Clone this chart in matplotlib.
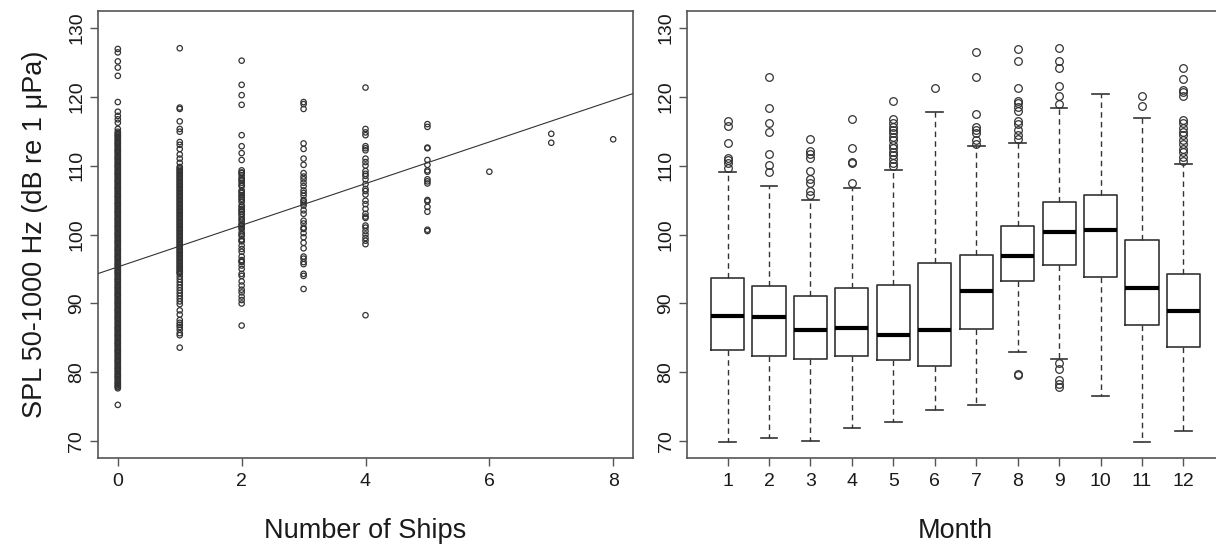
import numpy as np
import matplotlib as mpl
mpl.use("Agg")
import matplotlib.pyplot as plt

plt.rcParams['font.family'] = ['Liberation Sans', 'DejaVu Sans']

### Data ###

# SPL values per number of ships
spl_ships0 = [75.3, 77.7, 77.9, 78.2, 78.5, 78.9, 79.3, 79.6, 80.0, 80.4, 80.7, 81.1,
              81.5, 81.8, 82.2, 82.6, 83.0, 83.3, 83.7, 84.1, 84.4, 84.8, 85.2, 85.5,
              85.9, 86.3, 86.6, 87.0, 87.4, 87.8, 88.1, 88.5, 88.9, 89.2, 89.6, 90.0,
              90.3, 90.7, 91.1, 91.4, 91.8, 92.2, 92.5, 92.9, 93.3, 93.6, 94.0, 94.4,
              94.7, 95.1, 95.5, 95.8, 96.2, 96.6, 96.9, 97.3, 97.7, 98.0, 98.4, 98.8,
              99.1, 99.5, 99.9, 100.2, 100.6, 101.0, 101.3, 101.7, 102.1, 102.4, 102.8,
              103.2, 103.5, 103.9, 104.3, 104.6, 105.0, 105.4, 105.7, 106.1, 106.5,
              106.8, 107.2, 107.6, 107.9, 108.3, 108.7, 109.0, 109.4, 109.8, 110.1,
              110.5, 110.9, 111.2, 111.6, 112.0, 112.3, 112.7, 113.1, 113.4, 113.8,
              114.2, 114.5, 114.9, 115.3, 116.2, 116.7, 117.2, 117.8, 119.2, 123.0,
              124.2, 125.1, 126.4, 126.9,
              # second pass over the solid band
              78.0, 78.35, 78.7, 79.1, 79.45, 79.8, 80.2, 80.55, 80.9, 81.3, 81.65,
              82.0, 82.4, 82.8, 83.15, 83.5, 83.9, 84.25, 84.6, 85.0, 85.35, 85.7,
              86.1, 86.45, 86.8, 87.2, 87.6, 87.95, 88.3, 88.7, 89.05, 89.4, 89.8,
              90.15, 90.5, 90.9, 91.25, 91.6, 92.0, 92.35, 92.7, 93.1, 93.45, 93.8,
              94.2, 94.55, 94.9, 95.3, 95.65, 96.0, 96.4, 96.75, 97.1, 97.5, 97.85,
              98.2, 98.6, 98.95, 99.3, 99.7, 100.05, 100.4, 100.8, 101.15, 101.5,
              101.9, 102.25, 102.6, 103.0, 103.35, 103.7, 104.1, 104.45, 104.8, 105.2,
              105.55, 105.9, 106.3, 106.65, 107.0, 107.4, 107.75, 108.1, 108.5,
              108.85, 109.2, 109.6, 109.95, 110.3, 110.7, 111.05, 111.4, 111.8,
              112.15, 112.5, 112.9, 113.25, 113.6, 114.0, 114.35, 114.7]
spl_ships1 = [83.6, 85.4, 85.7, 86.2, 86.6, 86.9, 87.2, 87.6, 88.4, 89.0, 89.9, 90.3,
              90.7, 91.1, 91.5, 91.9, 92.3, 92.7, 93.1, 93.5, 93.9, 94.3, 94.6, 95.0,
              95.4, 95.8, 96.2, 96.6, 97.0, 97.4, 97.8, 98.2, 98.6, 99.0, 99.4, 99.8,
              100.2, 100.6, 101.0, 101.4, 101.8, 102.2, 102.6, 103.0, 103.4, 103.8,
              104.2, 104.6, 105.0, 105.4, 105.8, 106.2, 106.6, 107.0, 107.4, 107.8,
              108.2, 108.6, 109.0, 109.4, 109.8, 110.4, 111.0, 111.6, 112.4, 113.0,
              113.4, 114.9, 115.3, 116.4, 118.2, 118.4, 127.0,
              # second pass over the solid band
              94.45, 94.8, 95.2, 95.6, 96.0, 96.4, 96.8, 97.2, 97.6, 98.0, 98.4,
              98.8, 99.2, 99.6, 100.0, 100.4, 100.8, 101.2, 101.6, 102.0, 102.4,
              102.8, 103.2, 103.6, 104.0, 104.4, 104.8, 105.2, 105.6, 106.0, 106.4,
              106.8, 107.2, 107.6, 108.0, 108.4, 108.8, 109.2, 109.6]
spl_ships2 = [86.8, 90.0, 90.5, 91.0, 91.6, 92.0, 92.6, 93.2, 94.0, 94.3, 95.0, 95.5,
              96.0, 96.3, 96.8, 97.5, 97.9, 98.4, 99.0, 99.3, 99.8, 100.3, 100.8, 101.2,
              101.6, 102.0, 102.5, 102.9, 103.3, 103.7, 104.2, 104.7, 105.0, 105.5,
              106.0, 106.4, 107.0, 107.5, 107.8, 108.2, 108.6, 109.0, 109.3, 110.8,
              111.8, 112.8, 114.4, 118.8, 120.2, 121.7, 125.2,
              96.1, 99.1, 100.0, 101.0, 101.4, 102.2, 103.0, 103.5, 104.0, 105.2,
              105.7, 106.2, 107.2, 108.0, 108.9]
spl_ships3 = [92.1, 94.0, 94.3, 95.7, 96.0, 96.5, 96.8, 98.0, 98.8, 99.6, 100.2, 100.8,
              101.0, 101.6, 102.0, 103.0, 103.5, 104.2, 104.5, 104.8, 105.0, 105.6,
              106.0, 106.4, 107.0, 107.5, 108.0, 108.4, 108.9, 110.1, 111.0, 112.4,
              113.2, 118.2, 118.9, 119.2]
spl_ships4 = [88.3, 98.6, 99.1, 99.5, 100.0, 100.5, 101.0, 101.3, 102.4, 102.6, 103.0,
              103.7, 104.4, 104.9, 105.8, 106.3, 106.6, 107.3, 108.0, 108.5, 108.8,
              109.2, 110.0, 110.5, 111.0, 112.2, 112.5, 112.8, 114.4, 114.8, 115.3, 121.3]
spl_ships5 = [100.5, 100.7, 103.3, 104.0, 104.8, 105.0, 107.4, 107.7, 108.0, 109.1,
              109.3, 110.1, 110.8, 112.5, 112.6, 115.6, 116.0]
spl_ships6 = [109.1]
spl_ships7 = [113.3, 114.6]
spl_ships8 = [113.8]
spl_by_ships = [spl_ships0, spl_ships1, spl_ships2, spl_ships3, spl_ships4,
                spl_ships5, spl_ships6, spl_ships7, spl_ships8]

fit_intercept = 95.3
fit_slope = 3.02

# monthly box statistics
months = [1, 2, 3, 4, 5, 6, 7, 8, 9, 10, 11, 12]
whisk_lo = [69.9, 70.5, 70.1, 71.9, 72.8, 74.5, 75.3, 83.0, 82.0, 76.6, 69.9, 71.5]
q1 = [83.3, 82.4, 81.9, 82.4, 81.8, 81.0, 86.3, 93.2, 95.65, 93.8, 86.9, 83.65]
med = [88.25, 88.1, 86.2, 86.4, 85.4, 86.2, 91.8, 96.9, 100.4, 100.7, 92.2, 88.9]
q3 = [93.7, 92.55, 91.05, 92.3, 92.75, 95.85, 97.0, 101.2, 104.75, 105.7, 99.2, 94.3]
whisk_hi = [109.0, 107.0, 105.0, 106.8, 109.3, 117.8, 112.9, 113.3, 118.4, 120.4, 116.9, 110.2]
outliers = [
    [116.5, 115.7, 113.2, 111.1, 110.8, 110.4, 109.7],
    [122.8, 118.4, 116.2, 114.9, 111.7, 110.1, 109.0],
    [113.8, 112.1, 111.6, 111.1, 109.2, 108.1, 107.5, 106.3, 105.7],
    [116.7, 112.5, 110.5, 110.3, 107.5],
    [119.4, 116.8, 116.2, 115.6, 115.1, 114.7, 114.2, 113.7, 113.0, 112.5, 112.0,
     111.5, 110.9, 110.3, 110.0],
    [121.3],
    [126.5, 122.9, 117.5, 115.6, 115.1, 114.7, 113.7, 113.1],
    [126.9, 125.1, 121.2, 119.4, 119.0, 118.5, 117.9, 116.4, 116.0, 115.2, 114.4,
     113.9, 79.8, 79.6],
    [127.0, 125.2, 124.2, 121.6, 120.1, 118.9, 81.3, 80.5, 78.9, 78.4, 77.9],
    [],
    [120.1, 118.7],
    [124.1, 122.5, 121.0, 120.7, 120.1, 116.6, 116.2, 115.5, 114.9, 114.4, 113.7,
     113.1, 112.4, 111.9, 111.3, 110.6],
]

ship_ticks = [0, 2, 4, 6, 8]
spl_ticks = [70, 80, 90, 100, 110, 120, 130]

### Figure ###

W, H = 1216, 550
fig = plt.figure(figsize=(W/100, H/100), dpi=100)
frame_col = '#555555'
ink = '#1a1a1a'

ax1 = fig.add_axes([98/W, 92/H, 535/W, 447/H])
ax2 = fig.add_axes([687/W, 92/H, 537/W, 447/H])

for ax in (ax1, ax2):
    for s in ax.spines.values():
        s.set_color(frame_col)
        s.set_linewidth(1.2)
    ax.set_ylim(67.6, 132.4)
    ax.set_yticks(spl_ticks)
    ax.tick_params(axis='both', direction='out', length=6, width=1.0,
                   color=frame_col, labelsize=14, labelcolor=ink)
    ax.tick_params(axis='y', pad=3)
    ax.tick_params(axis='x', pad=5)
    for lab in ax.get_yticklabels():
        lab.set_rotation(90)
        lab.set_va('center')

# scatter of SPL vs number of ships
for n, vals in enumerate(spl_by_ships):
    ax1.scatter(np.full(len(vals), n), vals, s=15, facecolors='none',
                edgecolors='#333333', linewidths=0.9, zorder=2)
ax1.axline((0, fit_intercept), slope=fit_slope, color='#333333', lw=0.8, zorder=3)
ax1.set_xlim(-0.32, 8.32)
ax1.set_xticks(ship_ticks)
ax1.set_xlabel('Number of Ships', fontsize=19.5, color=ink, labelpad=20)
ax1.set_ylabel('SPL 50-1000 Hz (dB re 1 \u03bcPa)', fontsize=19.5, color=ink, labelpad=15)

# monthly boxplots
stats = []
for i in range(len(months)):
    stats.append(dict(med=med[i], q1=q1[i], q3=q3[i], whislo=whisk_lo[i],
                      whishi=whisk_hi[i], fliers=outliers[i], label=str(months[i])))

ax2.bxp(stats, positions=months, widths=0.8, showfliers=True,
        boxprops=dict(color='#333333', lw=1.2),
        medianprops=dict(color='black', lw=3),
        whiskerprops=dict(color='#333333', lw=1.0, ls=(0, (4, 3))),
        capprops=dict(color='#333333', lw=1.2),
        capwidths=0.4,
        flierprops=dict(marker='o', markersize=5.5, markerfacecolor='none',
                        markeredgecolor='#333333', markeredgewidth=0.9))
ax2.set_xlim(0.02, 12.98)
ax2.set_xticks(months)
ax2.set_xticklabels([str(m) for m in months])
ax2.set_xlabel('Month', fontsize=19.5, color=ink, labelpad=20)

fig.savefig('out.png', dpi=100)
